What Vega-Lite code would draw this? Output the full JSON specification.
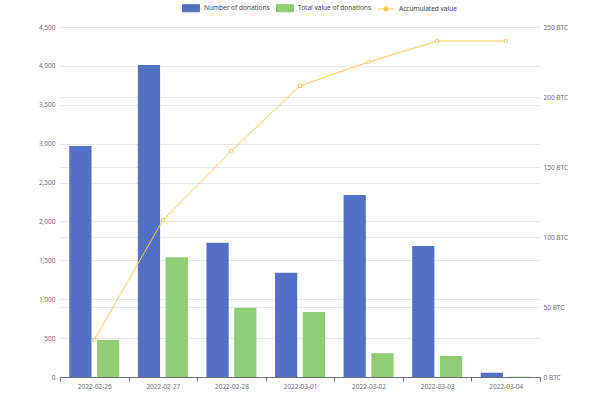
{
  "$schema": "https://vega.github.io/schema/vega-lite/v6.json",
  "width": 480,
  "height": 350,
  "autosize": {"type": "none"},
  "padding": {"left": 60, "top": 27, "right": 60, "bottom": 32},
  "background": "white",
  "config": {"font": "Noto Sans", "view": {"stroke": null}},
  "data": {
    "values": [
      {"date": "2022-02-26", "donations": 2970, "value": 26.5, "acc": 26.5},
      {"date": "2022-02-27", "donations": 4010, "value": 85.5, "acc": 112},
      {"date": "2022-02-28", "donations": 1725, "value": 49.5, "acc": 161.5},
      {"date": "2022-03-01", "donations": 1340, "value": 46.5, "acc": 208},
      {"date": "2022-03-02", "donations": 2340, "value": 17, "acc": 225},
      {"date": "2022-03-03", "donations": 1685, "value": 15, "acc": 240},
      {"date": "2022-03-04", "donations": 55, "value": 0.2, "acc": 240}
    ]
  },
  "encoding": {
    "x": {
      "field": "date",
      "type": "ordinal",
      "scale": {"paddingInner": 0, "paddingOuter": 0},
      "axis": {
        "title": null,
        "labelAngle": 0,
        "tickBand": "extent",
        "domainColor": "#6e7079",
        "tickColor": "#6e7079",
        "tickSize": 4,
        "labelColor": "#6e7079",
        "labelFontSize": 6.5,
        "labelPadding": 2,
        "grid": false
      }
    }
  },
  "layer": [
    {
      "mark": {"type": "bar"},
      "encoding": {
        "xOffset": {
          "datum": "Number of donations",
          "scale": {"domain": ["Number of donations", "Total value of donations"], "paddingInner": 0.2, "paddingOuter": 0.335}
        },
        "y": {
          "field": "donations",
          "type": "quantitative",
          "scale": {"domain": [0, 4500], "nice": false},
          "axis": {
            "orient": "left",
            "title": null,
            "values": [0, 500, 1000, 1500, 2000, 2500, 3000, 3500, 4000, 4500],
            "labelExpr": "format(datum.value, ',.0f')",
            "domain": false,
            "ticks": false,
            "labelColor": "#6e7079",
            "labelFontSize": 6.5,
            "labelPadding": 5,
            "grid": true,
            "gridColor": "#e6e9f0"
          }
        },
        "color": {
          "datum": "Number of donations",
          "scale": {
            "domain": ["Number of donations", "Total value of donations", "Accumulated value"],
            "range": ["#5470c6", "#91cc75", "#fac858"]
          },
          "legend": {
            "orient": "none",
            "legendX": 123,
            "legendY": -27,
            "direction": "horizontal",
            "title": null,
            "labelFontSize": 6.5,
            "labelColor": "#464646",
            "symbolSize": 200,
            "columnPadding": 4,
            "labelOffset": 5,
            "padding": 0,
            "encode": {
              "symbols": {
                "update": {
                  "shape": {"signal": "datum.value === 'Accumulated value' ? 'M-1.2,0H-0.3M0.3,0H1.2M0.3,0A0.3,0.3,0,1,1,-0.3,0A0.3,0.3,0,1,1,0.3,0Z' : 'M-1.2,-0.5H1.2V0.5H-1.2Z'"},
                  "fill": {"signal": "datum.value === 'Accumulated value' ? 'white' : scale('color', datum.value)"},
                  "stroke": {"signal": "datum.value === 'Accumulated value' ? '#fac858' : scale('color', datum.value)"},
                  "strokeWidth": {"value": 1},
                  "opacity": {"value": 1},
                  "fillOpacity": {"value": 1}
                }
              }
            }
          }
        }
      }
    },
    {
      "layer": [
        {
          "mark": {"type": "bar"},
          "encoding": {
            "xOffset": {"datum": "Total value of donations"},
            "y": {
              "field": "value",
              "type": "quantitative",
              "scale": {"domain": [0, 250], "nice": false},
              "axis": {
                "orient": "right",
                "title": null,
                "values": [0, 50, 100, 150, 200, 250],
                "labelExpr": "datum.value + ' BTC'",
                "domain": false,
                "ticks": false,
                "labelColor": "#6e7079",
                "labelFontSize": 6.5,
                "labelPadding": 3,
                "grid": true,
                "gridColor": "#e6e9f0"
              }
            },
            "color": {"datum": "Total value of donations"}
          }
        },
        {
          "mark": {"type": "line", "strokeWidth": 1},
          "encoding": {
            "y": {
              "field": "acc",
              "type": "quantitative",
              "scale": {"domain": [0, 250], "nice": false},
              "axis": {
                "orient": "right",
                "title": null,
                "values": [0, 50, 100, 150, 200, 250],
                "labelExpr": "datum.value + ' BTC'",
                "domain": false,
                "ticks": false,
                "labelColor": "#6e7079",
                "labelFontSize": 6.5,
                "labelPadding": 3,
                "grid": true,
                "gridColor": "#e6e9f0"
              }
            },
            "color": {"datum": "Accumulated value"}
          }
        },
        {
          "mark": {"type": "point", "filled": true, "fill": "white", "stroke": "#fac858", "strokeWidth": 1, "size": 12, "opacity": 1},
          "encoding": {
            "y": {
              "field": "acc",
              "type": "quantitative",
              "scale": {"domain": [0, 250], "nice": false},
              "axis": {
                "orient": "right",
                "title": null,
                "values": [0, 50, 100, 150, 200, 250],
                "labelExpr": "datum.value + ' BTC'",
                "domain": false,
                "ticks": false,
                "labelColor": "#6e7079",
                "labelFontSize": 6.5,
                "labelPadding": 3,
                "grid": true,
                "gridColor": "#e6e9f0"
              }
            }
          }
        }
      ]
    }
  ],
  "resolve": {"scale": {"y": "independent"}}
}
